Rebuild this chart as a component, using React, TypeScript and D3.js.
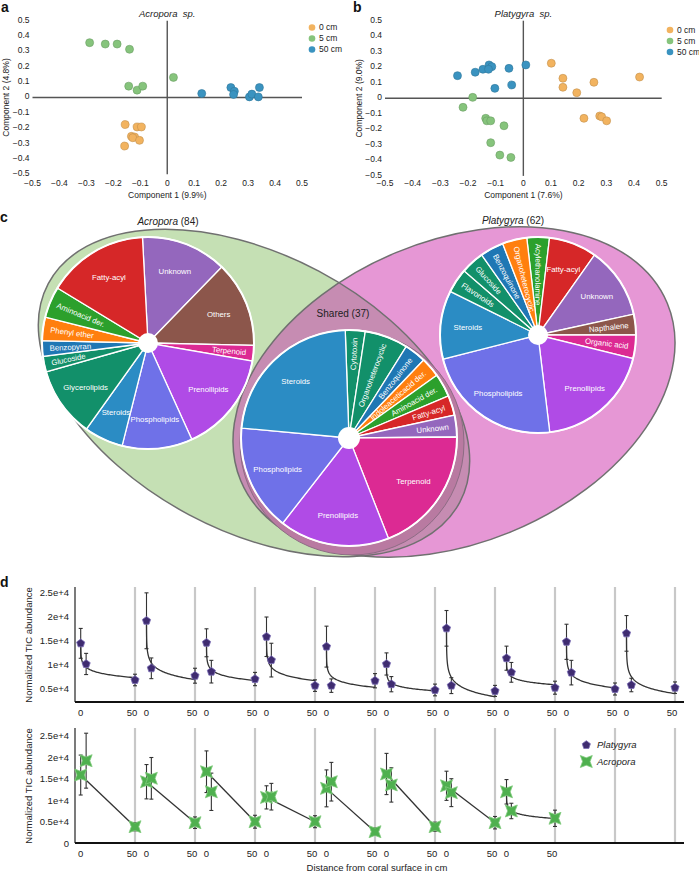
import React from 'react';
import * as d3 from 'd3';

const FONT = '"Liberation Sans", Arial, Helvetica, sans-serif';

// ---------------- Panel a / b : PCA scores ----------------
const pcaTicks = [-0.5, -0.4, -0.3, -0.2, -0.1, 0, 0.1, 0.2, 0.3, 0.4, 0.5];
const depthGroups = ['0 cm', '5 cm', '50 cm'];
const depthColors = ['#f2b35f', '#86c47c', '#3a93c0'];

const acroporaPC0: [number, number][] = [[-0.156, -0.176], [-0.112, -0.192], [-0.096, -0.192], [-0.133, -0.253], [-0.121, -0.257], [-0.128, -0.262], [-0.103, -0.279], [-0.158, -0.316]];
const acroporaPC5: [number, number][] = [[-0.288, 0.357], [-0.23, 0.348], [-0.186, 0.348], [-0.14, 0.314], [-0.143, 0.074], [-0.112, 0.048], [-0.091, 0.074], [0.023, 0.131]];
const acroporaPC50: [number, number][] = [[0.128, 0.026], [0.236, 0.065], [0.249, 0.041], [0.246, 0.02], [0.305, 0.004], [0.314, 0.022], [0.338, 0.004], [0.342, 0.065]];

const platygyraPC0: [number, number][] = [[0.101, 0.226], [0.143, 0.129], [0.143, 0.071], [0.193, 0.036], [0.255, 0.103], [0.42, 0.137], [0.219, -0.129], [0.276, -0.114], [0.283, -0.119], [0.301, -0.145]];
const platygyraPC5: [number, number][] = [[-0.183, 0.006], [-0.218, -0.058], [-0.136, -0.129], [-0.132, -0.145], [-0.118, -0.145], [-0.07, -0.177], [-0.118, -0.286], [-0.085, -0.366], [-0.045, -0.381]];
const platygyraPC50: [number, number][] = [[-0.238, 0.146], [-0.174, 0.168], [-0.146, 0.187], [-0.124, 0.215], [-0.114, 0.204], [-0.126, 0.187], [-0.052, 0.193], [0.009, 0.215], [-0.103, 0.064], [-0.042, 0.086]];

// ---------------- Panel c : compound classes ----------------
const acroporaClasses = ['Unknown', 'Others', 'Terpenoid', 'Prenollipids', 'Phospholipids', 'Steroids', 'Glycerolipids', 'Glucoside', 'Benzopyran', 'Phenyl ether', 'Aminoacid der.', 'Fatty-acyl'];
const acroporaCounts = [11, 11, 2, 13, 9, 5, 9, 2, 2, 3, 4, 13];
const acroporaColors = ['#9467bd', '#8c564b', '#dc2a93', '#b04be6', '#6f71e8', '#2b8cc4', '#12906a', '#12906a', '#1f77b4', '#ff7f0e', '#2ca02c', '#d62728'];

const sharedClasses = ['Cytotoxin', 'Organoheterocyclic', 'Benzoquinone', 'Indoleaceticacid der.', 'Aminoacid der.', 'Fatty-acyl', 'Unknown', 'Terpenoid', 'Prenollipids', 'Phospholipids', 'Steroids'];
const sharedCounts = [1.1, 2.4, 1.2, 1.1, 1.3, 1.1, 1.2, 7.1, 6.1, 5.9, 8.5];
const sharedColors = ['#12906a', '#12906a', '#1f77b4', '#ff7f0e', '#2ca02c', '#d62728', '#9467bd', '#dc2a93', '#b04be6', '#6f71e8', '#2b8cc4'];

const platygyraClasses = ['Acylethanolamine', 'Fatty-acyl', 'Unknown', 'Napthalene', 'Organic acid', 'Prenollipids', 'Phospholipids', 'Steroids', 'Flavonoids', 'Glucoside', 'Benzoquinone', 'Organoheterocyclic'];
const platygyraCounts = [2.3, 4.9, 7.3, 2.1, 2.4, 11.9, 14.2, 7.0, 2.5, 2.4, 2.4, 2.5];
const platygyraColors = ['#2ca02c', '#d62728', '#9467bd', '#8c564b', '#dc2a93', '#b04be6', '#6f71e8', '#2b8cc4', '#12906a', '#12906a', '#1f77b4', '#ff7f0e'];

// ---------------- Panel d : TIC abundance ----------------
const distances = [0, 5, 50];
const platyMean0 = [14480, 19170, 14600, 15850, 13800, 10200, 17600, 11400, 14800, 16550];
const platySd0 = [3100, 5800, 2900, 4100, 4250, 2300, 3700, 2500, 3650, 3700];
const platyMean5 = [10200, 9300, 8600, 11000, 5700, 6000, 5700, 8460, 8400, 5830];
const platySd5 = [2200, 2150, 2350, 3500, 1400, 1580, 1650, 2050, 2550, 1400];
const platyMean50 = [6870, 7760, 7070, 5700, 6720, 4800, 4600, 5270, 5000, 5270];
const platySd50 = [1200, 1550, 1380, 1200, 1480, 1220, 1150, 1350, 1250, 1200];

const acroMean0 = [15900, 14350, 16680, 10700, 12800, 16150, 13400, 12000];
const acroSd0 = [4650, 4000, 4850, 2700, 4300, 4800, 3400, 2850];
const acroMean5 = [19250, 15140, 12000, 10860, 14350, 13600, 11800, 7530];
const acroSd5 = [6400, 4850, 4350, 3100, 4500, 4000, 3250, 1800];
const acroMean50 = [3870, 4800, 5030, 5030, 2700, 3870, 4800, 5820];
const acroSd50 = [950, 1350, 1500, 1400, 870, 1050, 1450, 1900];
const acroModel = ['linear', 'linear', 'linear', 'linear', 'linear', 'linear', 'linear', 'log'];

const topTicks = [5000, 10000, 15000, 20000, 25000];
const topTickLabels = ['0.5e+4', '1e+4', '1.5e+4', '2e+4', '2.5e+4'];
const bottomTicks = [0, 5000, 10000, 15000, 20000, 25000];
const bottomTickLabels = ['0', '0.5e+4', '1e+4', '1.5e+4', '2e+4', '2.5e+4'];

// ---------------- helpers ----------------
const fmtTick = (v: number) => (v < 0 ? '\u2212' : '') + (Math.abs(v) < 1e-9 ? '0' : String(Math.abs(v)));

function PcaPanel(props: {
  xRange: [number, number]; yRange: [number, number]; title: string; xTitle: string; yTitle: string;
  groups: [number, number][][]; legend: [number, number]; yTitleX: number;
}) {
  const x = d3.scaleLinear().domain([-0.5, 0.5]).range(props.xRange);
  const y = d3.scaleLinear().domain([-0.5, 0.5]).range(props.yRange);
  return (
    <g>
      <text x={x(0)} y={17} textAnchor="middle" fontSize={9.5} fontStyle="italic" fill="#222" style={{ whiteSpace: 'pre' }}>{props.title}</text>
      <line x1={x(-0.5)} x2={x(0.5)} y1={y(0)} y2={y(0)} stroke="#555" strokeWidth={1.4} />
      <line x1={x(0)} x2={x(0)} y1={y(0.5)} y2={y(-0.5)} stroke="#555" strokeWidth={1.4} />
      {pcaTicks.map(t => (
        <text key={'y' + t} x={x(-0.5) - 3} y={y(t) - 1} dy="0.35em" textAnchor="end" fontSize={8.5} fill="#222">{fmtTick(t)}</text>
      ))}
      {pcaTicks.map(t => (
        <text key={'x' + t} x={x(t)} y={186} textAnchor="middle" fontSize={8.5} fill="#222">{fmtTick(t)}</text>
      ))}
      <text x={x(0)} y={198} textAnchor="middle" fontSize={8.5} fill="#222">{props.xTitle}</text>
      <text transform={`translate(${props.yTitleX},${y(0)}) rotate(-90)`} textAnchor="middle" fontSize={8.5} fill="#222">{props.yTitle}</text>
      {props.groups.map((pts, gi) => (
        <g key={gi}>
          {pts.map((p, i) => (
            <circle key={i} cx={x(p[0])} cy={y(p[1])} r={4} fill={depthColors[gi]}
              stroke={d3.color(depthColors[gi])!.darker(0.6).toString()} strokeWidth={0.6} />
          ))}
        </g>
      ))}
      {depthGroups.map((g, i) => (
        <g key={g}>
          <circle cx={props.legend[0]} cy={props.legend[1] + i * 11} r={3.3} fill={depthColors[i]} />
          <text x={props.legend[0] + 7} y={props.legend[1] + i * 11} dy="0.35em" fontSize={8.5} fill="#222">{g}</text>
        </g>
      ))}
    </g>
  );
}

function Pie(props: { cx: number; cy: number; r: number; hole: number; labels: string[]; values: number[]; colors: string[]; startDeg: number }) {
  const s = (props.startDeg * Math.PI) / 180;
  const arcs = d3.pie<number>().sort(null).value(d => d).startAngle(s).endAngle(s + 2 * Math.PI)(props.values);
  const arc = d3.arc<d3.PieArcDatum<number>>().innerRadius(0).outerRadius(props.r);
  const fs = 7.8;
  return (
    <g transform={`translate(${props.cx},${props.cy})`}>
      {arcs.map((a, i) => (
        <path key={i} d={arc(a) || ''} fill={props.colors[i]} stroke="#fff" strokeWidth={1.3} />
      ))}
      <circle r={props.r} fill="none" stroke="#fff" strokeWidth={2} />
      <circle r={props.hole} fill="#fff" />
      {arcs.map((a, i) => {
        const mid = (a.startAngle + a.endAngle) / 2;
        const span = a.endAngle - a.startAngle;
        const label = props.labels[i];
        const textW = label.length * fs * 0.5;
        const arcLen = 0.75 * props.r * span;
        if (textW <= arcLen * 1.15) {
          const rr = 0.72 * props.r;
          return (
            <text key={'l' + i} x={Math.sin(mid) * rr} y={-Math.cos(mid) * rr} dy="0.35em" textAnchor="middle" fontSize={fs} fill="#fff">{label}</text>
          );
        }
        let deg = (mid * 180) / Math.PI;
        deg = ((deg % 360) + 360) % 360;
        const outward = deg > 1 && deg < 179;
        const rot = outward ? deg - 90 : deg - 270;
        const rr = 0.93 * props.r;
        return (
          <text key={'l' + i} transform={`translate(${Math.sin(mid) * rr},${-Math.cos(mid) * rr}) rotate(${rot})`} dy="0.35em"
            textAnchor={outward ? 'end' : 'start'} fontSize={fs} fill="#fff">{label}</text>
        );
      })}
    </g>
  );
}

function pentagonPath(r: number) {
  const pts = d3.range(5).map(k => {
    const a = -Math.PI / 2 + (k * 2 * Math.PI) / 5;
    return [r * Math.cos(a), r * Math.sin(a)];
  });
  return 'M' + pts.map(p => p[0].toFixed(2) + ',' + p[1].toFixed(2)).join('L') + 'Z';
}
function starPath(s: number) {
  const i = s * 0.62;
  return `M${-s},${-s}L0,${-i}L${s},${-s}L${i},0L${s},${s}L0,${i}L${-s},${s}L${-i},0Z`;
}

function logFit(xs: number[], ys: number[], c = 0.02) {
  const lx = xs.map(v => Math.log(v + c));
  const mx = d3.mean(lx)!;
  const my = d3.mean(ys)!;
  const b = d3.sum(lx.map((l, i) => (l - mx) * (ys[i] - my))) / d3.sum(lx.map(l => (l - mx) ** 2));
  const a = my - b * mx;
  return (v: number) => a + b * Math.log(v + c);
}

const curveXs = [0, ...d3.range(-2, 1.7, 0.02).map(e => Math.pow(10, e)).filter(v => v < 50), 50];

const gridX = (i: number) => 135 + 60 * i;
const panelX = (i: number) =>
  d3.scaleLinear().domain([0, 50]).range(i === 0 ? [80.7, gridX(0)] : [gridX(i) - 48.5, gridX(i)]);

function TicPlot(props: {
  top: number; bottom: number; y: d3.ScaleLinear<number, number>; ticks: number[]; tickLabels: string[];
  means: number[][]; sds: number[][]; models: string[]; marker: 'pent' | 'star'; labelPanels: number; labelY: number;
}) {
  const { y } = props;
  const nPanels = props.means[0].length;
  return (
    <g>
      {d3.range(10).map(i => (
        <line key={'g' + i} x1={gridX(i)} x2={gridX(i)} y1={props.top} y2={props.bottom} stroke="#c8c8c8" strokeWidth={2.2} />
      ))}
      <line x1={75} x2={75} y1={props.top} y2={props.bottom} stroke="#222" strokeWidth={1.2} />
      <line x1={75} x2={684} y1={props.bottom} y2={props.bottom} stroke="#111" strokeWidth={2.2} />
      {props.ticks.map((t, i) => (
        <text key={'t' + i} x={69} y={y(t)} dy="0.35em" textAnchor="end" fontSize={9.5} fill="#222">{props.tickLabels[i]}</text>
      ))}
      {d3.range(props.labelPanels).map(i => {
        const xs = panelX(i);
        return (
          <g key={'xl' + i}>
            <text x={xs(0)} y={props.labelY} textAnchor="middle" fontSize={9.5} fill="#222">0</text>
            <text x={xs(50) - 3} y={props.labelY} textAnchor="middle" fontSize={9.5} fill="#222">50</text>
          </g>
        );
      })}
      {d3.range(nPanels).map(i => {
        const xs = panelX(i);
        const ms = props.means.map(m => m[i]);
        const sd = props.sds.map(m => m[i]);
        let path = '';
        if (props.models[i] === 'log') {
          const f = logFit(distances, ms);
          path = d3.line<number>().x(v => xs(v)).y(v => y(f(v)))(curveXs) || '';
        } else {
          path = d3.line<number>().x(v => xs(v)).y((v, k) => y(k === 0 ? ms[0] : ms[2]))([0, 50]) || '';
        }
        return (
          <g key={'p' + i}>
            <path d={path} fill="none" stroke="#333" strokeWidth={1.3} />
            {distances.map((dv, k) => (
              <g key={k}>
                <line x1={xs(dv)} x2={xs(dv)} y1={y(ms[k] - sd[k])} y2={y(ms[k] + sd[k])} stroke="#333" strokeWidth={1.1} />
                <line x1={xs(dv) - 2} x2={xs(dv) + 2} y1={y(ms[k] - sd[k])} y2={y(ms[k] - sd[k])} stroke="#333" strokeWidth={1.1} />
                <line x1={xs(dv) - 2} x2={xs(dv) + 2} y1={y(ms[k] + sd[k])} y2={y(ms[k] + sd[k])} stroke="#333" strokeWidth={1.1} />
              </g>
            ))}
            {distances.map((dv, k) =>
              props.marker === 'pent' ? (
                <path key={'m' + k} d={pentagonPath(4.3)} transform={`translate(${xs(dv)},${y(ms[k])})`} fill="#3f2c70" stroke="#7a6cb5" strokeWidth={0.8} />
              ) : (
                <path key={'m' + k} d={starPath(6)} transform={`translate(${xs(dv)},${y(ms[k])})`} fill="#4fb04f" stroke="#82cc7e" strokeWidth={0.8} />
              )
            )}
          </g>
        );
      })}
    </g>
  );
}

export default function App() {
  const yTop = d3.scaleLinear().domain([5000, 25000]).range([689, 592.7]);
  const yBot = d3.scaleLinear().domain([0, 25000]).range([843.3, 736]);
  const green = { cx: 254, cy: 393, rx: 233, ry: 138, rot: 28 };
  const pink = { cx: 454, cy: 392, rx: 231, ry: 151, rot: -22.6 };
  const greenT = `rotate(${green.rot} ${green.cx} ${green.cy})`;
  const pinkT = `rotate(${pink.rot} ${pink.cx} ${pink.cy})`;
  return (
    <svg width={699} height={873} style={{ position: 'absolute', left: 0, top: 0, background: '#fff' }} fontFamily={FONT}>
      <defs>
        <clipPath id="pinkClip">
          <ellipse cx={pink.cx} cy={pink.cy} rx={pink.rx} ry={pink.ry} transform={pinkT} />
        </clipPath>
      </defs>
      {/* panel letters */}
      <text x={1} y={12} fontSize={14} fontWeight="bold" fill="#111">a</text>
      <text x={353} y={12} fontSize={14} fontWeight="bold" fill="#111">b</text>
      <text x={0} y={222} fontSize={14} fontWeight="bold" fill="#111">c</text>
      <text x={0} y={587} fontSize={14} fontWeight="bold" fill="#111">d</text>

      <PcaPanel xRange={[32.5, 302]} yRange={[174.3, 20.7]} title="Acropora  sp." xTitle="Component 1 (9.9%)" yTitle="Component 2 (4.8%)"
        groups={[acroporaPC0, acroporaPC5, acroporaPC50]} legend={[312, 27.5]} yTitleX={8.5} />
      <PcaPanel xRange={[385, 661.7]} yRange={[175.9, 20.7]} title="Platygyra  sp." xTitle="Component 1 (7.6%)" yTitle="Component 2 (9.0%)"
        groups={[platygyraPC0, platygyraPC5, platygyraPC50]} legend={[670, 30]} yTitleX={362} />

      {/* panel c */}
      <ellipse cx={green.cx} cy={green.cy} rx={green.rx} ry={green.ry} transform={greenT} fill="#c5e0b4" />
      <ellipse cx={pink.cx} cy={pink.cy} rx={pink.rx} ry={pink.ry} transform={pinkT} fill="#e697d5" />
      <g clipPath="url(#pinkClip)">
        <ellipse cx={green.cx} cy={green.cy} rx={green.rx} ry={green.ry} transform={greenT} fill="#c68cb2" />
      </g>
      <ellipse cx={green.cx} cy={green.cy} rx={green.rx} ry={green.ry} transform={greenT} fill="none" stroke="#707070" strokeWidth={1.5} />
      <ellipse cx={pink.cx} cy={pink.cy} rx={pink.rx} ry={pink.ry} transform={pinkT} fill="none" stroke="#707070" strokeWidth={1.5} />

      <text x={168} y={225} textAnchor="middle" fontSize={10} fill="#222"><tspan fontStyle="italic">Acropora</tspan> (84)</text>
      <text x={513} y={224} textAnchor="middle" fontSize={10} fill="#222"><tspan fontStyle="italic">Platygyra</tspan> (62)</text>
      <text x={343} y={317} textAnchor="middle" fontSize={10} fill="#222">Shared (37)</text>

      <circle cx={352} cy={443} r={112} fill="#b97aa1" stroke="#8d6c84" strokeWidth={1} />
      <Pie cx={148} cy={343} r={106} hole={10} labels={acroporaClasses} values={acroporaCounts} colors={acroporaColors} startDeg={-3} />
      <Pie cx={349} cy={438} r={108} hole={11} labels={sharedClasses} values={sharedCounts} colors={sharedColors} startDeg={-2} />
      <Pie cx={538} cy={335} r={98} hole={10} labels={platygyraClasses} values={platygyraCounts} colors={platygyraColors} startDeg={-6.6} />

      {/* panel d */}
      <TicPlot top={587} bottom={702} y={yTop} ticks={topTicks} tickLabels={topTickLabels}
        means={[platyMean0, platyMean5, platyMean50]} sds={[platySd0, platySd5, platySd50]}
        models={platyMean0.map(() => 'log')} marker="pent" labelPanels={10} labelY={716} />
      <text transform="translate(31.5,645) rotate(-90)" textAnchor="middle" fontSize={9.5} fill="#222">Normalized TIC abundance</text>

      <TicPlot top={728} bottom={843} y={yBot} ticks={bottomTicks} tickLabels={bottomTickLabels}
        means={[acroMean0, acroMean5, acroMean50]} sds={[acroSd0, acroSd5, acroSd50]}
        models={acroModel} marker="star" labelPanels={8} labelY={857} />
      <text transform="translate(31.5,786) rotate(-90)" textAnchor="middle" fontSize={9.5} fill="#222">Normalized TIC abundance</text>
      <text x={377} y={871} textAnchor="middle" fontSize={9.5} fill="#222">Distance from coral surface in cm</text>

      <path d={pentagonPath(4.3)} transform="translate(586.3,745)" fill="#3f2c70" stroke="#7a6cb5" strokeWidth={0.8} />
      <text x={597} y={745} dy="0.35em" fontSize={9.5} fontStyle="italic" fill="#222">Platygyra</text>
      <path d={starPath(6)} transform="translate(586.3,761.5)" fill="#4fb04f" stroke="#82cc7e" strokeWidth={0.8} />
      <text x={597} y={761.5} dy="0.35em" fontSize={9.5} fontStyle="italic" fill="#222">Acropora</text>
    </svg>
  );
}
